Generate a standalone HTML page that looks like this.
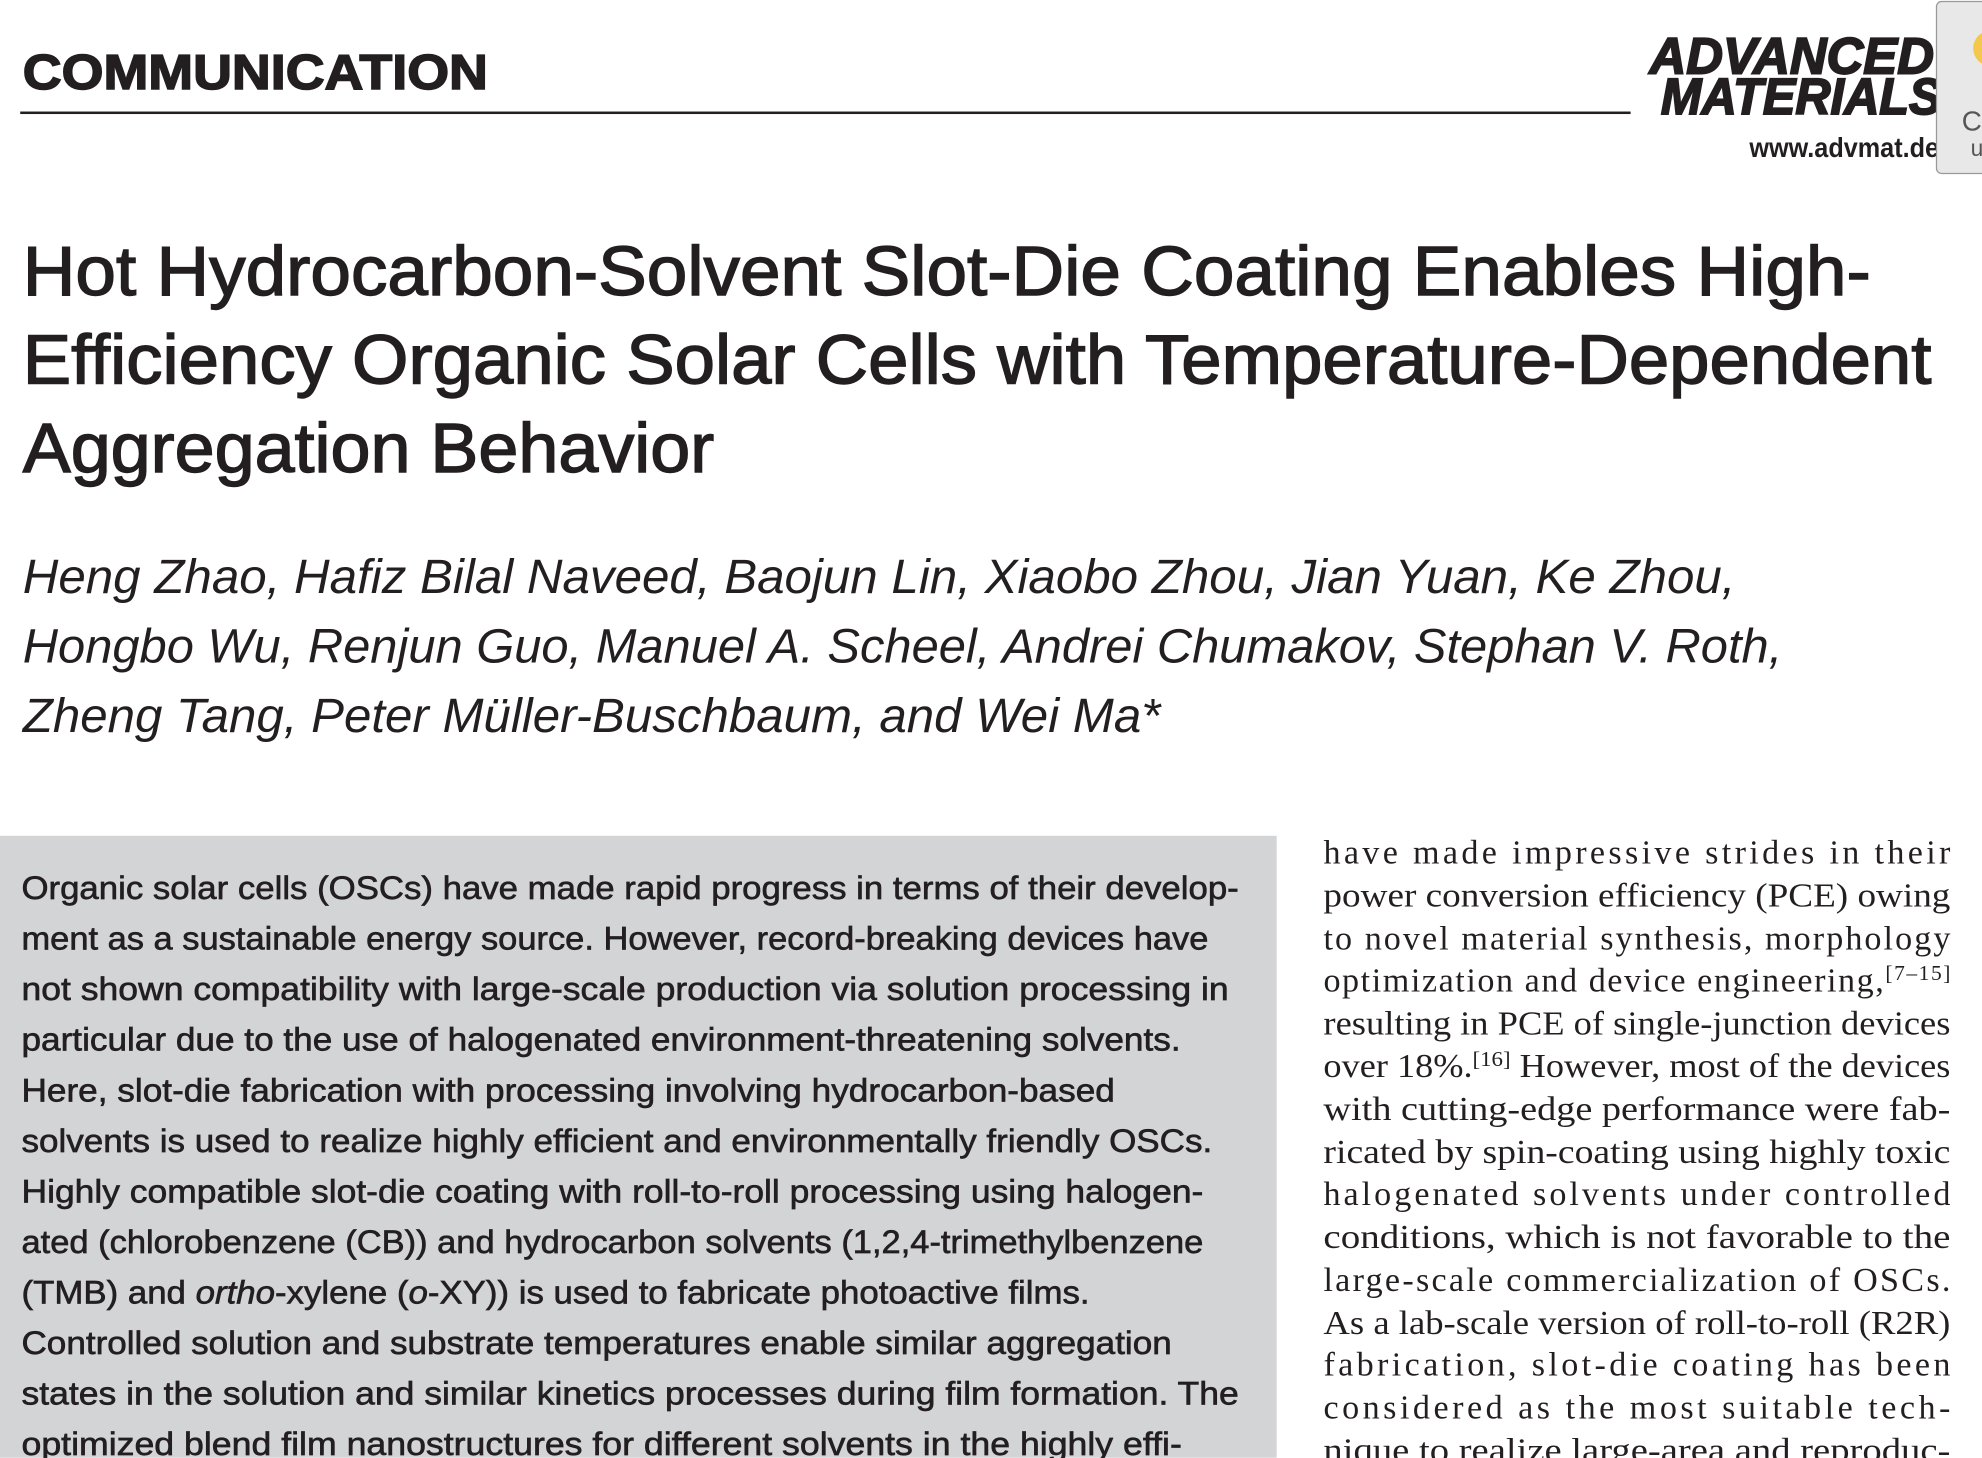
<!DOCTYPE html>
<html><head><meta charset="utf-8"><style>
html,body{margin:0;padding:0;background:#fff;width:1982px;height:1458px;overflow:hidden}
svg{display:block}
.s{font-family:"Liberation Sans",sans-serif;fill:#231f20}
.r{font-family:"Liberation Serif",serif;fill:#231f20;font-size:27px}
.a{font-family:"Liberation Sans",sans-serif;fill:#231f20;font-size:25.5px;stroke:#231f20;stroke-width:0.5}
</style></head><body>
<svg width="1982" height="1458" viewBox="0 0 1568 1153" xmlns="http://www.w3.org/2000/svg">
<rect width="1568" height="1153" fill="#fff"/>
<text class="s" x="18" y="70" font-size="39" font-weight="bold" textLength="368" lengthAdjust="spacingAndGlyphs" style="stroke:#231f20;stroke-width:1.2">COMMUNICATION</text>
<rect x="16" y="88" width="1274" height="2" fill="#231f20"/>
<text class="s" x="1305" y="58" font-size="40" font-weight="bold" font-style="italic" textLength="225" lengthAdjust="spacingAndGlyphs" style="stroke:#231f20;stroke-width:1.5">ADVANCED</text>
<text class="s" x="1314" y="90" font-size="40" font-weight="bold" font-style="italic" textLength="222" lengthAdjust="spacingAndGlyphs" style="stroke:#231f20;stroke-width:1.5">MATERIALS</text>
<text class="s" x="1384" y="124" font-size="22" font-weight="bold" textLength="150" lengthAdjust="spacingAndGlyphs">www.advmat.de</text>
<rect x="1532" y="1" width="44" height="136" rx="4" fill="#e8e8e8" stroke="#999" stroke-width="1"/>
<circle cx="1575" cy="38" r="14" fill="#f3c84c"/>
<text class="s" x="1552" y="103" font-size="22" style="fill:#555">C</text>
<text class="s" x="1559" y="123" font-size="18" style="fill:#555">u</text>

<g class="s" font-size="55" style="stroke:#231f20;stroke-width:1.1">
<text x="18" y="233" textLength="1462" lengthAdjust="spacingAndGlyphs">Hot Hydrocarbon-Solvent Slot-Die Coating Enables High-</text>
<text x="18" y="303" textLength="1510" lengthAdjust="spacingAndGlyphs">Efficiency Organic Solar Cells with Temperature-Dependent</text>
<text x="18" y="373" textLength="547" lengthAdjust="spacingAndGlyphs">Aggregation Behavior</text>
</g>
<g class="s" font-size="38" font-style="italic">
<text x="18" y="469" textLength="1355" lengthAdjust="spacingAndGlyphs">Heng Zhao, Hafiz Bilal Naveed, Baojun Lin, Xiaobo Zhou, Jian Yuan, Ke Zhou,</text>
<text x="18" y="524" textLength="1392" lengthAdjust="spacingAndGlyphs">Hongbo Wu, Renjun Guo, Manuel A. Scheel, Andrei Chumakov, Stephan V. Roth,</text>
<text x="18" y="579" textLength="900" lengthAdjust="spacingAndGlyphs">Zheng Tang, Peter Müller-Buschbaum, and Wei Ma*</text>
</g>

<rect x="0" y="661" width="1010" height="492" fill="#d3d4d6"/>
<g class="a">
<text x="17" y="711" textLength="963" lengthAdjust="spacingAndGlyphs">Organic solar cells (OSCs) have made rapid progress in terms of their develop-</text>
<text x="17" y="751" textLength="939" lengthAdjust="spacingAndGlyphs">ment as a sustainable energy source. However, record-breaking devices have</text>
<text x="17" y="791" textLength="955" lengthAdjust="spacingAndGlyphs">not shown compatibility with large-scale production via solution processing in</text>
<text x="17" y="831" textLength="917" lengthAdjust="spacingAndGlyphs">particular due to the use of halogenated environment-threatening solvents.</text>
<text x="17" y="871" textLength="865" lengthAdjust="spacingAndGlyphs">Here, slot-die fabrication with processing involving hydrocarbon-based</text>
<text x="17" y="911" textLength="942" lengthAdjust="spacingAndGlyphs">solvents is used to realize highly efficient and environmentally friendly OSCs.</text>
<text x="17" y="951" textLength="935" lengthAdjust="spacingAndGlyphs">Highly compatible slot-die coating with roll-to-roll processing using halogen-</text>
<text x="17" y="991" textLength="935" lengthAdjust="spacingAndGlyphs">ated (chlorobenzene (CB)) and hydrocarbon solvents (1,2,4-trimethylbenzene</text>
<text x="17" y="1031" textLength="845" lengthAdjust="spacingAndGlyphs">(TMB) and <tspan font-style="italic">ortho</tspan>-xylene (<tspan font-style="italic">o</tspan>-XY)) is used to fabricate photoactive films.</text>
<text x="17" y="1071" textLength="910" lengthAdjust="spacingAndGlyphs">Controlled solution and substrate temperatures enable similar aggregation</text>
<text x="17" y="1111" textLength="963" lengthAdjust="spacingAndGlyphs">states in the solution and similar kinetics processes during film formation. The</text>
<text x="17" y="1151" textLength="918" lengthAdjust="spacingAndGlyphs">optimized blend film nanostructures for different solvents in the highly effi-</text>
</g>

<g class="r">
<text x="1047" y="683" textLength="496" lengthAdjust="spacing">have made impressive strides in their</text>
<text x="1047" y="717" textLength="496" lengthAdjust="spacingAndGlyphs">power conversion efficiency (PCE) owing</text>
<text x="1047" y="751" textLength="496" lengthAdjust="spacing">to novel material synthesis, morphology</text>
<text x="1047" y="784" textLength="496" lengthAdjust="spacing">optimization and device engineering,<tspan font-size="17" dy="-9">[7–15]</tspan></text>
<text x="1047" y="818" textLength="496" lengthAdjust="spacingAndGlyphs">resulting in PCE of single-junction devices</text>
<text x="1047" y="852" textLength="496" lengthAdjust="spacingAndGlyphs">over 18%.<tspan font-size="17" dy="-9">[16]</tspan><tspan dy="9"> However, most of the devices</tspan></text>
<text x="1047" y="886" textLength="496" lengthAdjust="spacingAndGlyphs">with cutting-edge performance were fab-</text>
<text x="1047" y="920" textLength="496" lengthAdjust="spacingAndGlyphs">ricated by spin-coating using highly toxic</text>
<text x="1047" y="953" textLength="496" lengthAdjust="spacing">halogenated solvents under controlled</text>
<text x="1047" y="987" textLength="496" lengthAdjust="spacingAndGlyphs">conditions, which is not favorable to the</text>
<text x="1047" y="1021" textLength="496" lengthAdjust="spacing">large-scale commercialization of OSCs.</text>
<text x="1047" y="1055" textLength="496" lengthAdjust="spacingAndGlyphs">As a lab-scale version of roll-to-roll (R2R)</text>
<text x="1047" y="1088" textLength="496" lengthAdjust="spacing">fabrication, slot-die coating has been</text>
<text x="1047" y="1122" textLength="496" lengthAdjust="spacing">considered as the most suitable tech-</text>
<text x="1047" y="1156" textLength="496" lengthAdjust="spacingAndGlyphs">nique to realize large-area and reproduc-</text>
</g>
</svg>
</body></html>
